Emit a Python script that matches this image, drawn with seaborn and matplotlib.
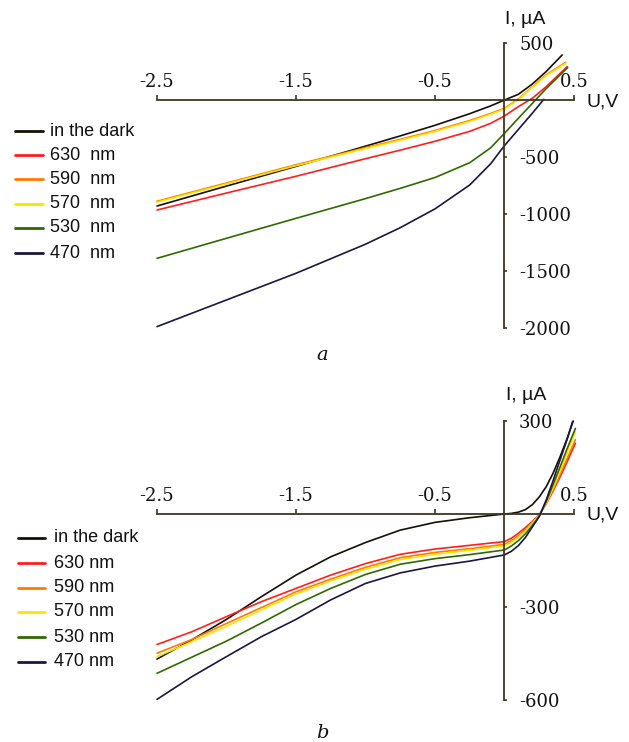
import seaborn as sns
import matplotlib.pyplot as plt
import pandas as pd
from matplotlib.lines import Line2D

# ---- data (U in V, I in uA) ----
sources = ["in the dark", "630 nm", "590 nm", "570 nm", "530 nm", "470 nm"]
colors = ["#141008", "#ff1f1a", "#ff7a00", "#ffe400", "#2f6a00", "#1c1640"]

# panel a
u_a = [-2.5, -2.0, -1.5, -1.0, -0.75, -0.5, -0.25, -0.1, 0.0, 0.1, 0.2, 0.3]
dark_a = [-930, -755, -582, -405, -315, -222, -120, -52, 0, 50, 140, 250]
nm630_a = [-965, -816, -669, -515, -440, -362, -275, -205, -140, -58, 15, 117]
nm590_a = [-888, -728, -568, -418, -345, -268, -180, -118, -73, 10, 116, 222]
nm570_a = [-896, -736, -576, -426, -353, -276, -188, -125, -80, 4, 110, 214]
nm530_a = [-1389, -1213, -1038, -865, -775, -680, -550, -420, -292, -160, -30, 100]
nm470_a = [-1988, -1754, -1520, -1265, -1120, -955, -745, -560, -400, -258, -116]
end_u_a = [0.415, 0.45, 0.44, 0.44, 0.455, 0.283]
end_i_a = [395, 292, 330, 322, 285, 6]

# panel b
u_b = [-2.5, -2.25, -2.0, -1.75, -1.5, -1.25, -1.0, -0.75, -0.5, -0.25,
       0.0, 0.05, 0.1, 0.15, 0.2, 0.25, 0.3, 0.35, 0.4, 0.45]
dark_b = [-468, -406, -340, -267, -197, -138, -92, -52, -27, -12,
          0, 2, 6, 14, 30, 55, 88, 132, 185, 243]
nm630_b = [-421, -380, -331, -283, -240, -197, -160, -130, -113, -101,
           -89, -78, -62, -44, -24, -3, 33, 75, 120, 168]
nm590_b = [-449, -405, -353, -302, -251, -210, -172, -141, -124, -112,
           -98, -86, -70, -50, -27, -4, 34, 80, 128, 178]
nm570_b = [-460, -412, -362, -310, -258, -216, -178, -147, -130, -117,
           -103, -91, -75, -55, -30, -5, 36, 85, 138, 195]
nm530_b = [-514, -462, -410, -352, -292, -240, -195, -162, -144, -131,
           -116, -103, -86, -64, -37, -7, 40, 95, 152, 210]
nm470_b = [-598, -525, -460, -396, -340, -277, -224, -190, -168, -152,
           -132, -120, -102, -76, -42, -8, 45, 108, 175, 240]
end_u_b = [0.494, 0.51, 0.51, 0.51, 0.51, 0.49]
end_i_b = [300, 228, 240, 266, 276, 298]

xticks = [-2.5, -1.5, -0.5, 0.5]
xtick_labels = ["-2.5", "-1.5", "-0.5", "0.5"]
yticks_a = [500, -500, -1000, -1500, -2000]
yticks_b = [300, -300, -600]

legend_a = ["in the dark", "630  nm", "590  nm", "570  nm", "530  nm", "470  nm"]
legend_b = ["in the dark", "630 nm", "590 nm", "570 nm", "530 nm", "470 nm"]


def make_frame(u, series, end_u, end_i):
    rows = []
    for name, vals, eu, ei in zip(sources, series, end_u, end_i):
        for x, y in zip(u, vals):
            rows.append((x, y, name))
        rows.append((eu, ei, name))
    return pd.DataFrame(rows, columns=["U", "I", "source"])


df_a = make_frame(u_a, [dark_a, nm630_a, nm590_a, nm570_a, nm530_a, nm470_a],
                  end_u_a, end_i_a)
df_b = make_frame(u_b, [dark_b, nm630_b, nm590_b, nm570_b, nm530_b, nm470_b],
                  end_u_b, end_i_b)

sns.set_theme(style="white")
plt.rcParams["font.family"] = ["Liberation Sans", "DejaVu Sans"]

W, H = 629, 742
fig = plt.figure(figsize=(W / 100, H / 100), dpi=100)
axis_col = "#3e3622"
palette = dict(zip(sources, colors))


def px(x, y):
    return x / W, 1 - y / H


def setup_panel(ax, df, ylim, yticks):
    sns.lineplot(data=df, x="U", y="I", hue="source", palette=palette,
                 hue_order=sources, estimator=None, sort=False,
                 linewidth=1.2, legend=False, ax=ax)
    for ln in ax.lines:
        ln.set_clip_on(False)
        ln.set_solid_joinstyle("round")
    ax.set_xlim(-2.5, 0.5)
    ax.set_ylim(*ylim)
    ax.set_facecolor("none")
    for s in ["left", "bottom"]:
        ax.spines[s].set_visible(False)
    ax.spines["top"].set_position(("data", 0))
    ax.spines["right"].set_position(("data", 0))
    ax.spines["top"].set_bounds(-2.5, 0.5)
    ax.spines["right"].set_bounds(ylim[0], ylim[1])
    for s in ["top", "right"]:
        ax.spines[s].set_color(axis_col)
        ax.spines[s].set_linewidth(1.3)
    ax.xaxis.set_ticks_position("top")
    ax.yaxis.set_ticks_position("right")
    ax.set_xticks(xticks)
    ax.set_xticklabels(xtick_labels)
    ax.set_yticks(yticks)
    ax.set_yticklabels([str(v) for v in yticks])
    ax.tick_params(axis="x", direction="out", length=3.5, width=1.2,
                   color=axis_col, pad=3, labelsize=13,
                   labelfontfamily="DejaVu Serif", colors="#111111")
    ax.tick_params(axis="y", direction="out", length=2.5, width=1.2,
                   color=axis_col, pad=8, labelsize=13,
                   labelfontfamily="DejaVu Serif", colors="#111111")
    ax.set_xlabel("")
    ax.set_ylabel("")
    ax.grid(False)


def draw_legend(labels, rows, x0, x1, xt):
    for lab, col, y in zip(labels, colors, rows):
        fig.add_artist(Line2D([x0 / W, x1 / W], [1 - y / H, 1 - y / H],
                              color=col, lw=2, transform=fig.transFigure))
        fig.text(xt / W, 1 - y / H, lab, ha="left", va="center",
                 fontsize=13, color="#111111")


ax_a = fig.add_axes([157 / W, 1 - 328 / H, 417 / W, 285 / H])
setup_panel(ax_a, df_a, (-2000, 500), yticks_a)
ax_b = fig.add_axes([157 / W, 1 - 700 / H, 417 / W, 279 / H])
setup_panel(ax_b, df_b, (-600, 300), yticks_b)

draw_legend(legend_a, [131, 155, 179, 204, 228, 253], 15, 43, 50)
draw_legend(legend_b, [538, 563, 588, 612, 637, 662], 18, 45, 54)

for (x, y), t in [((525, 19), "I, µA"), ((603, 102), "U,V"),
                  ((526, 396), "I, µA"), ((603, 515), "U,V")]:
    fig.text(*px(x, y), t, ha="center", va="center", fontsize=14,
             color="#111111")

fig.text(*px(322, 355), "a", ha="center", va="center", fontsize=14,
         style="italic", family="DejaVu Serif", color="#111111")
fig.text(*px(322, 733), "b", ha="center", va="center", fontsize=14,
         style="italic", family="DejaVu Serif", color="#111111")

fig.savefig("out.png", dpi=100, facecolor="white")
